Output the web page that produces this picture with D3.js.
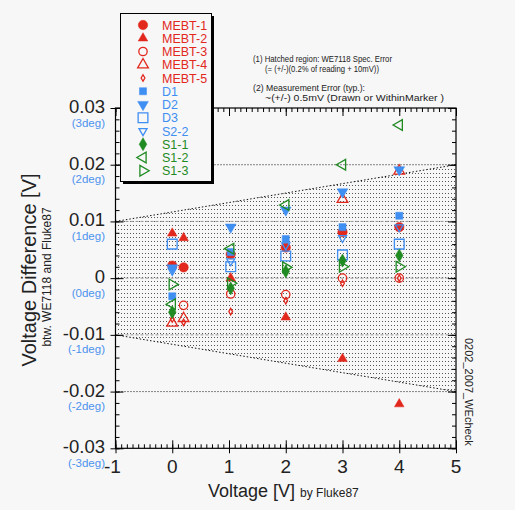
<!DOCTYPE html>
<html>
<head>
<script type="text/javascript" src="https://cdn.jsdelivr.net/npm/d3@7"></script>
<style type="text/css">
    body { margin:0; background:#f7f7f7; }
    svg text { font-family:"Liberation Sans", Arial, sans-serif; }
</style>
</head>
<body>
<script type="text/javascript">
// data (V, volt difference)
var seriesNames = ["MEBT-1","MEBT-2","MEBT-3","MEBT-4","MEBT-5","D1","D2","D3","S2-2","S1-1","S1-2","S1-3"];
var mebt1 = [[0,0.0022],[0.2,0.0019],[1.03,0.0042],[2,0.0054],[3,0.0081],[4,0.0090]];
var mebt2 = [[0,0.0079],[0.2,0.0071],[1.03,0.0000],[2,-0.0069],[3,-0.0142],[4,-0.0222]];
var mebt3 = [[0.2,-0.0048],[1.03,-0.0028],[2,-0.0029],[3,0.0000],[4,0.0000]];
var mebt4 = [[0,-0.0079],[0.2,-0.0071],[3,0.0139],[4,0.0189]];
var mebt5 = [[0,-0.0072],[0.2,-0.0078],[1.03,-0.0059],[2,-0.0040],[3,-0.0009],[4,0.0000]];
var d1 = [[0,-0.0032],[1.03,0.0046],[2,0.0069],[3,0.0090],[4,0.0110]];
var d2 = [[0,0.0018],[1.03,0.0090],[2,0.0120],[3,0.0152],[4,0.0191]];
var d3s = [[0,0.0060],[1.03,0.0020],[2,0.0039],[3,0.0041],[4,0.0060]];
var s22 = [[0,0.0013],[1.03,0.0030],[2,0.0058],[3,0.0071],[4,0.0090]];
var s11 = [[0,-0.0060],[1.03,-0.0018],[2,0.0012],[3,0.0031],[4,0.0040]];
var s12 = [[0,-0.0046],[1.03,0.0052],[2,0.0129],[3,0.0200],[4,0.0270]];
var s13 = [[0,-0.0011],[1.03,-0.0009],[2,0.0019],[3,0.0020],[4,0.0020]];
var seriesValues = [mebt1,mebt2,mebt3,mebt4,mebt5,d1,d2,d3s,s22,s11,s12,s13];

var yTicks = [-0.03,-0.02,-0.01,0,0.01,0.02,0.03];
var yTickLabels = ["-0.03","-0.02","-0.01","0","0.01","0.02","0.03"];
var degLabels = ["(-3deg)","(-2deg)","(-1deg)","(0deg)","(1deg)","(2deg)","(3deg)"];
var xTicks = [-1,0,1,2,3,4,5];
var xTickLabels = ["-1","0","1","2","3","4","5"];
// spec error band edges
var bandX = [-1,5];
var bandHi = [0.010,0.020];

var red = "#e2281d", blue = "#3f8ef2", green = "#1f8b22", degBlue = "#4d93ee";
// marker style per series: symbol, fill?, size, rotate, colour
var styles = [
    [d3.symbolCircle,true,70,0,red],
    [d3.symbolTriangle,true,40,0,red],
    [d3.symbolCircle,false,55,0,red],
    [d3.symbolTriangle,false,50,0,red],
    [d3.symbolDiamond,false,12,0,red],
    [d3.symbolSquare,true,50,0,blue],
    [d3.symbolTriangle,true,50,180,blue],
    [d3.symbolSquare,false,95,0,blue],
    [d3.symbolTriangle,false,28,180,blue],
    [d3.symbolDiamond,true,50,0,green],
    [d3.symbolTriangle,false,50,-90,green],
    [d3.symbolTriangle,false,50,90,green]
];

var W = 515, H = 510;
var svg = d3.select("body").append("svg").attr("width",W).attr("height",H);

var x = d3.scaleLinear().domain([-1,5]).range([115.5,456]);
var y = d3.scaleLinear().domain([-0.03,0.03]).range([448.3,108]);

// dotted hatch pattern
var pat = svg.append("defs").append("pattern")
    .attr("id","dots").attr("patternUnits","userSpaceOnUse")
    .attr("width",3).attr("height",4);
pat.append("rect").attr("x",1).attr("y",1).attr("width",1).attr("height",1).attr("fill","#555");

var area = d3.area()
    .x(function(d,i){return x(bandX[i]);})
    .y0(function(d,i){return y(-bandHi[i]);})
    .y1(function(d,i){return y(bandHi[i]);});
svg.append("path").datum(bandHi).attr("d",area).attr("fill","url(#dots)");

var edge = d3.line().x(function(d,i){return x(bandX[i]);});
svg.append("path").datum(bandHi).attr("d",edge.y(function(d){return y(d);}))
    .attr("fill","none").attr("stroke","#111").attr("stroke-dasharray","1.5,2");
svg.append("path").datum(bandHi).attr("d",edge.y(function(d){return y(-d);}))
    .attr("fill","none").attr("stroke","#111").attr("stroke-dasharray","1.5,2");

// horizontal reference lines
[0.02,-0.02].forEach(function(v){
    svg.append("line").attr("x1",x(-1)).attr("x2",x(5)).attr("y1",y(v)).attr("y2",y(v))
        .attr("stroke","#111").attr("stroke-dasharray","1,2");
});
[0.01,0,-0.01].forEach(function(v){
    svg.append("line").attr("x1",x(-1)).attr("x2",x(5)).attr("y1",y(v)).attr("y2",y(v))
        .attr("stroke","#999").attr("stroke-dasharray","3,2");
});

// axes
var minorY = d3.range(-0.03,0.0301,0.002), minorX = d3.range(-1,5.01,0.1);
function axisG(ax){
    var g = svg.append("g").call(ax);
    g.selectAll(".domain").remove();
    g.selectAll("text").remove();
    g.selectAll("line").attr("stroke","#000");
    return g;
}
axisG(d3.axisLeft(y).tickValues(minorY).tickSize(-4)).attr("transform","translate("+x(-1)+",0)");
axisG(d3.axisLeft(y).tickValues(yTicks).tickSize(-8)).attr("transform","translate("+x(-1)+",0)");
axisG(d3.axisLeft(y).tickValues(yTicks).tickSize(5)).attr("transform","translate("+x(-1)+",0)");
axisG(d3.axisRight(y).tickValues(minorY).tickSize(-4)).attr("transform","translate("+x(5)+",0)");
axisG(d3.axisRight(y).tickValues(yTicks).tickSize(-8)).attr("transform","translate("+x(5)+",0)");
axisG(d3.axisBottom(x).tickValues(minorX).tickSize(-4)).attr("transform","translate(0,"+y(-0.03)+")");
axisG(d3.axisBottom(x).tickValues(xTicks).tickSize(-8)).attr("transform","translate(0,"+y(-0.03)+")");
axisG(d3.axisBottom(x).tickValues(xTicks).tickSize(5)).attr("transform","translate(0,"+y(-0.03)+")");
axisG(d3.axisTop(x).tickValues(minorX).tickSize(-4)).attr("transform","translate(0,"+y(0.03)+")");
axisG(d3.axisTop(x).tickValues(xTicks).tickSize(-8)).attr("transform","translate(0,"+y(0.03)+")");

svg.append("rect").attr("x",x(-1)).attr("y",y(0.03))
    .attr("width",x(5)-x(-1)).attr("height",y(-0.03)-y(0.03))
    .attr("fill","none").attr("stroke","#000").attr("stroke-width",1.2);

// tick labels
svg.selectAll(".ylab").data(yTicks).enter().append("text")
    .attr("x",105).attr("y",function(d){return y(d)+5;})
    .attr("text-anchor","end").attr("font-size",18.5).attr("fill","#222")
    .text(function(d,i){return yTickLabels[i];});
svg.selectAll(".dlab").data(yTicks).enter().append("text")
    .attr("x",105).attr("y",function(d){return y(d)+18.5;})
    .attr("text-anchor","end").attr("font-size",11.5).attr("fill",degBlue)
    .text(function(d,i){return degLabels[i];});
svg.selectAll(".xlab").data(xTicks).enter().append("text")
    .attr("x",function(d){return x(d)-(d<0?3:0);}).attr("y",473)
    .attr("text-anchor","middle").attr("font-size",19).attr("fill","#222")
    .text(function(d,i){return xTickLabels[i];});

// axis titles
var xt = svg.append("text").attr("x",208).attr("y",497).attr("fill","#222");
xt.append("tspan").attr("font-size",18).text("Voltage [V]");
xt.append("tspan").attr("font-size",12).attr("dx",5).text("by Fluke87");
svg.append("text").attr("transform","translate(36,270) rotate(-90)")
    .attr("text-anchor","middle").attr("font-size",20).attr("fill","#222")
    .text("Voltage Difference [V]");
svg.append("text").attr("transform","translate(51,277) rotate(-90)")
    .attr("text-anchor","middle").attr("font-size",12).attr("fill","#222")
    .text("btw. WE7118 and Fluke87");
svg.append("text").attr("transform","translate(465,338) rotate(90)")
    .attr("font-size",11).attr("fill","#222").text("0202_2007_WEcheck");

// note text
var notes = [["(1) Hatched region:  WE7118 Spec. Error",253,62,139],
             ["(= (+/-)(0.2% of reading + 10mV))",265,72,114],
             ["(2)  Measurement Error (typ.):",253,91,112],
             ["~(+/-) 0.5mV (Drawn or WithinMarker )",265,101,179]];
notes.forEach(function(n){
    svg.append("text").attr("x",n[1]).attr("y",n[2]).attr("font-size",9.5).attr("fill","#222")
        .attr("textLength",n[3]).attr("lengthAdjust","spacingAndGlyphs").text(n[0]);
});

// markers
function sym(i){ return d3.symbol().type(styles[i][0]).size(styles[i][2]); }
seriesValues.forEach(function(vals,i){
    var st = styles[i];
    svg.append("g").selectAll("path").data(vals).enter().append("path")
        .attr("d",sym(i))
        .attr("transform",function(d){return "translate("+x(d[0])+","+y(d[1])+") rotate("+st[3]+")";})
        .attr("fill",st[1]?st[4]:"none")
        .attr("stroke",st[4]).attr("stroke-width",st[1]?0.5:1.3);
});

// legend
var lg = svg.append("g");
lg.append("rect").attr("x",123).attr("y",16).attr("width",91).attr("height",168).attr("fill","#000");
lg.append("rect").attr("x",120.5).attr("y",13.5).attr("width",91).attr("height",168)
    .attr("fill","#f7f7f7").attr("stroke","#000");
var colours = seriesNames.map(function(d,i){return styles[i][4];});
var rows = lg.selectAll(".row").data(seriesNames).enter().append("g")
    .attr("transform",function(d,i){return "translate(0,"+(25+i*13.25)+")";});
rows.append("path").attr("d",function(d,i){return sym(i)();})
    .attr("transform",function(d,i){return "translate(143,0) rotate("+styles[i][3]+")";})
    .attr("fill",function(d,i){return styles[i][1]?colours[i]:"none";})
    .attr("stroke",function(d,i){return colours[i];})
    .attr("stroke-width",function(d,i){return styles[i][1]?0.5:1.3;});
rows.append("text").attr("x",162).attr("y",4.5).attr("font-size",12.5)
    .attr("fill",function(d,i){return colours[i];}).text(function(d){return d;});
</script>
</body>
</html>
